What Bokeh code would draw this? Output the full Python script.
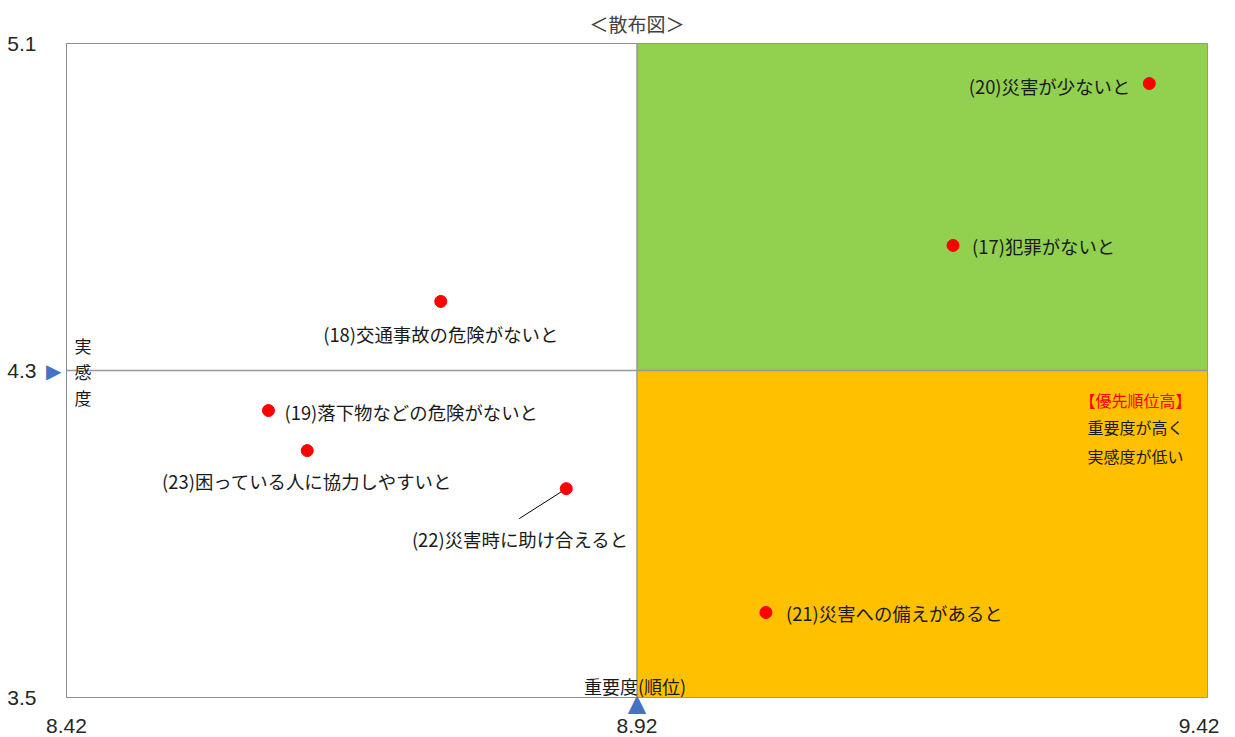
from bokeh.plotting import figure
from bokeh.models import Range1d, FixedTicker, Label, Span, ColumnDataSource, LinearAxis
from bokeh.core.properties import value
from bokeh.embed import file_html
from bokeh.resources import INLINE

# ---- data ----
x_ticks = [8.42, 8.92, 9.42]
y_ticks = [3.5, 4.3, 5.1]
names = ["(20)災害が少ないと", "(17)犯罪がないと", "(18)交通事故の危険がないと",
         "(19)落下物などの危険がないと", "(23)困っている人に協力しやすいと",
         "(22)災害時に助け合えると", "(21)災害への備えがあると"]
importance = [9.369, 9.197, 8.748, 8.597, 8.631, 8.858, 9.033]
satisfaction = [5.002, 4.606, 4.469, 4.202, 4.104, 4.011, 3.708]
title_text = "＜散布図＞"
x_title = "重要度(順位)"
y_title_chars = ["実", "感", "度"]
note_lines = ["【優先順位高】", "重要度が高く", "実感度が低い"]

# ---- label layout (style) ----
lab_align = ["right", "left", "center", "left", "center", "center", "left"]
lab_dx = [-19, 19, 0, 16, 0, -46, 20]
lab_dy = [2, 1, 33, 1, 30, 50, 1]

W, H = 1219, 737
L, R, T, B = 66, 12, 43, 40
fw, fh = W - L - R, H - T - B
xmin, xmax = x_ticks[0], x_ticks[-1]
ymin, ymax = y_ticks[0], y_ticks[-1]
xmid, ymid = x_ticks[1], y_ticks[1]
ppx = fw / (xmax - xmin)
ppy = fh / (ymax - ymin)

p = figure(width=W, height=H, output_backend="svg", toolbar_location=None,
           x_range=Range1d(xmin, xmax), y_range=Range1d(ymin, ymax),
           x_axis_location=None, y_axis_location=None,
           min_border_left=L, min_border_right=R, min_border_top=T, min_border_bottom=B)
p.grid.visible = False
p.outline_line_color = "#8c8c8c"
p.background_fill_color = "white"
p.border_fill_color = "white"

# title
p.title.text = title_text
p.title.align = "center"
p.title.text_font = "Noto Sans CJK JP"
p.title.text_font_size = "19px"
p.title.text_font_style = "normal"
p.title.text_color = "#404040"
p.title.standoff = 13


def style_axis(ax, font, size, color, standoff):
    ax.axis_line_color = None
    ax.major_tick_line_color = None
    ax.minor_tick_line_color = None
    ax.major_tick_out = 0
    ax.major_tick_in = 0
    ax.minor_tick_out = 0
    ax.minor_tick_in = 0
    ax.major_label_text_font = font
    ax.major_label_text_font_size = size
    ax.major_label_text_color = color
    ax.major_label_standoff = standoff


# marker axes (nearest the frame), then value axes
tri_y = LinearAxis(ticker=FixedTicker(ticks=[ymid]), major_label_overrides={ymid: "▶"})
style_axis(tri_y, "DejaVu Sans", "20px", "#4472C4", 5)
p.add_layout(tri_y, "left")
num_y = LinearAxis(ticker=FixedTicker(ticks=y_ticks))
style_axis(num_y, "Liberation Sans", "21px", "#262626", 7)
p.add_layout(num_y, "left")

tri_x = LinearAxis(ticker=FixedTicker(ticks=[xmid]), major_label_overrides={xmid: "▲"})
style_axis(tri_x, "DejaVu Sans", "24px", "#4472C4", -9)
p.add_layout(tri_x, "below")
num_x = LinearAxis(ticker=FixedTicker(ticks=x_ticks))
style_axis(num_x, "Liberation Sans", "21px", "#262626", -1)
p.add_layout(num_x, "below")

# quadrants
p.quad(left=[xmid], right=[xmax], bottom=[ymid], top=[ymax], fill_color="#92D050", line_color=None)
p.quad(left=[xmid], right=[xmax], bottom=[ymin], top=[ymid], fill_color="#FFC000", line_color=None)
p.add_layout(Span(location=xmid, dimension="height", line_color="#999999", line_width=1.5))
p.add_layout(Span(location=ymid, dimension="width", line_color="#999999", line_width=1.5))

# leader line for (22)
i22 = 5
p.segment(x0=[importance[i22]], y0=[satisfaction[i22]],
          x1=[importance[i22] - 47 / ppx], y1=[satisfaction[i22] - 30 / ppy],
          line_color="black", line_width=1)

src = ColumnDataSource(dict(x=importance, y=satisfaction, name=names,
                            align=lab_align, dx=lab_dx, dy=lab_dy))
p.scatter("x", "y", source=src, size=12, fill_color="#FF0000", line_color="#FF0000")
p.text("x", "y", text="name", source=src, text_align="align", x_offset="dx", y_offset="dy",
       text_baseline="middle", text_font=value("Noto Sans CJK JP"), text_font_size="18.4px",
       text_color="#1a1a1a")

# y title (vertical)
for ch, off in zip(y_title_chars, [25, -1, -27]):
    p.add_layout(Label(x=xmin, y=ymid, x_offset=16.5, y_offset=off, text=ch, text_align="center",
                       text_baseline="middle", text_font="Noto Sans CJK JP",
                       text_font_size="17px", text_color="#1a1a1a"))
# x title
p.add_layout(Label(x=xmid, y=ymin, y_offset=12, x_offset=-2, text=x_title, text_align="center",
                   text_baseline="middle", text_font="Noto Sans CJK JP",
                   text_font_size="18px", text_color="#1a1a1a"))
# quadrant note
for t, off, c in zip(note_lines, [-29, -56, -85], ["#FF0000", "#1a1a1a", "#1a1a1a"]):
    p.add_layout(Label(x=xmax, y=ymid, x_offset=-72, y_offset=off, text=t, text_align="center",
                       text_baseline="middle", text_font="Noto Sans CJK JP",
                       text_font_size="16px", text_color=c))

open("out.html", "w").write(file_html(p, INLINE))
